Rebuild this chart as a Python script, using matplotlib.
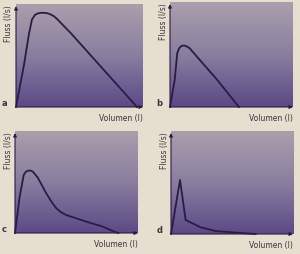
import numpy as np
import matplotlib.pyplot as plt
from matplotlib.colors import LinearSegmentedColormap

# flow-volume curves (volume and flow in arbitrary units, 0..10)
vol_a = [0, 0.63, 1.02, 1.26, 1.5, 1.75, 2.05, 2.4, 2.68, 3.0, 3.23, 3.7, 4.33, 5.35, 9.53]
flow_a = [0, 4.1, 7.1, 8.5, 8.95, 9.1, 9.15, 9.12, 9.02, 8.8, 8.55, 7.95, 7.15, 5.75, 0]

vol_b = [0, 0.38, 0.59, 0.75, 0.92, 1.14, 1.38, 1.6, 2.0, 2.52, 3.9, 5.6]
flow_b = [0, 2.57, 5.14, 5.6, 5.81, 5.86, 5.76, 5.59, 5.05, 4.35, 2.5, 0]

vol_c = [0, 0.38, 0.71, 0.88, 1.06, 1.26, 1.46, 1.87, 2.54, 3.0, 3.36, 3.75, 4.17, 5.8, 7.15, 7.97, 8.4]
flow_c = [0, 3.56, 5.69, 6.0, 6.11, 6.12, 6.01, 5.39, 3.89, 3.0, 2.42, 2.03, 1.76, 1.11, 0.62, 0.18, 0]

vol_d = [0, 0.74, 1.2, 2.43, 3.66, 5.3, 6.94]
flow_d = [0, 5.24, 1.36, 0.65, 0.29, 0.13, 0]

panels = [("a", vol_a, flow_a), ("b", vol_b, flow_b),
          ("c", vol_c, flow_c), ("d", vol_d, flow_d)]

# axes rectangles in pixels (left, top, right, bottom) of a 300x254 image
boxes = [(16, 4, 143, 107), (170, 2, 293, 107),
         (15, 131, 138, 233), (171, 131, 293, 234)]

paper = "#e6dfcf"
ink = "#2a1c44"
cmap = LinearSegmentedColormap.from_list("bg", ["#a99fac", "#8a7ea0", "#5b4a86"])

fig = plt.figure(figsize=(3.0, 2.54), dpi=100)
fig.patch.set_facecolor(paper)
W, H = 300.0, 254.0

for (letter, vol, flow), (l, t, r, b) in zip(panels, boxes):
    ax = fig.add_axes([l / W, 1 - b / H, (r - l) / W, (b - t) / H])
    ax.imshow(np.linspace(0, 1, 100)[:, None], aspect="auto", cmap=cmap,
              extent=[0, 10, 0, 10], origin="upper", zorder=0)
    ax.set_xlim(0, 10)
    ax.set_ylim(0, 10)
    for s in ax.spines.values():
        s.set_visible(False)
    ax.set_xticks([])
    ax.set_yticks([])
    ax.plot(vol, flow, color=ink, lw=1.3, zorder=3, clip_on=False,
            solid_joinstyle="round")
    ax.annotate("", xy=(10, 0), xytext=(0, 0),
                arrowprops=dict(arrowstyle="-|>", color=ink, lw=0.8,
                                mutation_scale=5, shrinkA=0, shrinkB=0))
    ax.annotate("", xy=(0, 9.8), xytext=(0, 0),
                arrowprops=dict(arrowstyle="-|>", color=ink, lw=0.8,
                                mutation_scale=5, shrinkA=0, shrinkB=0))
    ax.text(-0.02, 0.99, "Fluss (l/s)", transform=ax.transAxes, rotation=90,
            ha="right", va="top", fontsize=5.5, color="#3a3340")
    ax.text(1.0, -0.07, "Volumen (l)", transform=ax.transAxes,
            ha="right", va="top", fontsize=5.5, color="#3a3340")
    ax.text(-0.09, 0.03, letter, transform=ax.transAxes, ha="center",
            va="center", fontsize=6, fontweight="bold", color="#3a3340")

fig.savefig("out.png", dpi=100, facecolor=paper)
